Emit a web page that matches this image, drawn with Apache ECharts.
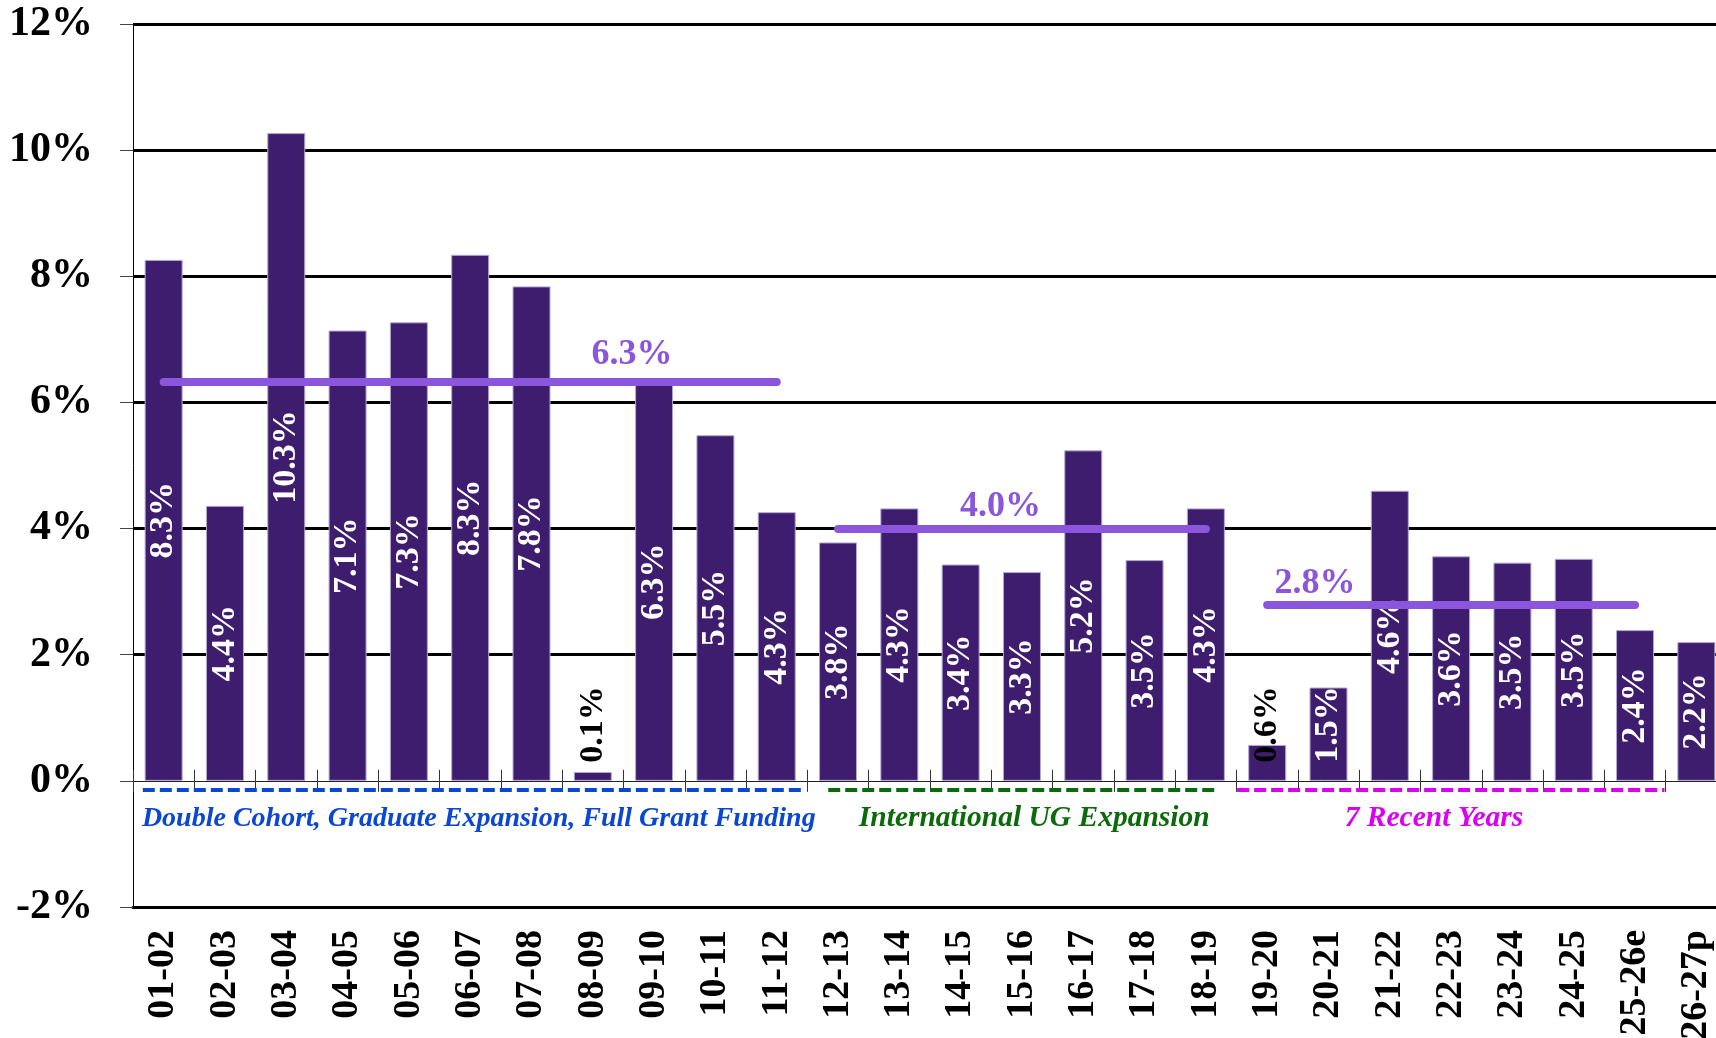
<!DOCTYPE html>
<html>
<head>
<meta charset="utf-8">
<title>Annual growth</title>
<script src="https://cdn.jsdelivr.net/npm/echarts@6/dist/echarts.min.js"></script>
<style>
html, body { margin: 0; padding: 0; background: #fff; }
#chart { width: 1716px; height: 1038px; }
</style>
</head>
<body>
<div id="chart"></div>
<script>
// fiscal years on the x axis
const years = ['01-02', '02-03', '03-04', '04-05', '05-06', '06-07', '07-08', '08-09', '09-10',
  '10-11', '11-12', '12-13', '13-14', '14-15', '15-16', '16-17', '17-18', '18-19', '19-20',
  '20-21', '21-22', '22-23', '23-24', '24-25', '25-26e', '26-27p']
// yearly growth, %
const growth = [8.26, 4.36, 10.27, 7.14, 7.27, 8.34, 7.84, 0.14, 6.31, 5.48, 4.26,
  3.78, 4.32, 3.43, 3.31, 5.24, 3.50, 4.32,
  0.57, 1.48, 4.60, 3.56, 3.46, 3.52, 2.39, 2.20]
const yTicks = [-2, 0, 2, 4, 6, 8, 10, 12]

// periods: first / last bar, average growth over the period
const periodNames = ['Double Cohort, Graduate Expansion, Full Grant Funding', 'International UG Expansion', '7 Recent Years']
const periodFirst = [0, 11, 18]
const periodLast = [10, 17, 24]
const periodAvg = [6.33, 3.99, 2.80]

const serif = '"Liberation Serif", "Times New Roman", serif'
const barColor = '#3e1c6e'
const avgColor = '#8b55dc'
const periodColors = ['#0b47d4', '#0b6b0b', '#d900f4']
const periodFont = [28, 29.5, 29.5]
// layout tweaks (axis units of the boundary axis)
const dashInset = [[0.16, 0.06], [0.34, 0.34], [0.01, 0.02]]
const periodTextX = [5.64, 14.70, 21.22]
const avgTextX = [8.14, 14.15, 19.28]
const avgTextDy = [-27, -22, -21]

const chart = echarts.init(document.getElementById('chart'))

const barData = growth.map(function(v) {
  if (v < 1.6) {
    // too short for the label: put it at the bottom, reading upward
    return {
      value: v,
      label: {
        position: 'insideBottom',
        distance: 18,
        align: 'left',
        verticalAlign: 'middle',
        color: v < 1 ? '#000' : '#fff'
      }
    }
  }
  return v
})

const avgLines = periodAvg.map(function(a, i) {
  return [
    { coord: [periodFirst[i] + 0.5, a] },
    { coord: [periodLast[i] + 0.5, a] }
  ]
})
const dashLines = periodNames.map(function(n, i) {
  return [
    { coord: [periodFirst[i] + dashInset[i][0], -0.14] },
    { coord: [periodLast[i] + 1 - dashInset[i][1], -0.14] }
  ]
})
const avgLabels = periodAvg.map(function(a, i) {
  return {
    name: a.toFixed(1) + '%',
    coord: [avgTextX[i], a],
    label: { offset: [0, avgTextDy[i]], color: avgColor, fontSize: 36 }
  }
})
const periodLabels = periodNames.map(function(n, i) {
  return {
    name: n,
    coord: [periodTextX[i], -0.6],
    label: { color: periodColors[i], fontSize: periodFont[i], fontStyle: 'italic' }
  }
})

const boundaryAxis = {
  type: 'value',
  min: 0,
  max: years.length,
  interval: 1,
  axisLabel: { show: false },
  splitLine: { show: false }
}

chart.setOption({
  animation: false,
  backgroundColor: '#fff',
  grid: { left: 133, top: 24, width: 1594, height: 883, containLabel: false, outerBoundsMode: 'none' },
  xAxis: [
    {
      type: 'category',
      data: years,
      position: 'bottom',
      axisLine: { onZero: false, lineStyle: { color: '#000', width: 3 } },
      axisTick: { show: false },
      axisLabel: {
        interval: 0,
        rotate: 90,
        margin: 23,
        color: '#000',
        fontFamily: serif,
        fontWeight: 'bold',
        fontSize: 38
      }
    },
    Object.assign({}, boundaryAxis, {
      position: 'bottom',
      axisLine: { onZero: true, onZeroAxisIndex: 0, lineStyle: { color: '#222', width: 1 } },
      axisTick: { show: true, length: 11, lineStyle: { color: '#333', width: 1 } }
    }),
    Object.assign({}, boundaryAxis, {
      position: 'top',
      axisLine: { show: false, onZero: true, onZeroAxisIndex: 1 },
      axisTick: { show: true, length: 11, lineStyle: { color: '#333', width: 1 } }
    })
  ],
  yAxis: [
    {
      type: 'value',
      min: yTicks[0],
      max: yTicks[yTicks.length - 1],
      interval: 2,
      axisLine: { show: true, onZero: false, lineStyle: { color: '#000', width: 1 } },
      axisTick: { show: true, length: 13, lineStyle: { color: '#444', width: 1 } },
      axisLabel: {
        formatter: '{value}%',
        margin: 40,
        color: '#000',
        fontFamily: serif,
        fontWeight: 'bold',
        fontSize: 42
      },
      splitLine: {
        show: true,
        lineStyle: { color: ['#000', 'transparent', '#000', '#000', '#000', '#000', '#000', '#000'], width: 3 }
      }
    },
    {
      type: 'value',
      min: yTicks[0],
      max: yTicks[yTicks.length - 1],
      show: false,
      axisLine: { onZero: false }
    }
  ],
  series: [
    {
      name: 'growth',
      type: 'bar',
      xAxisIndex: 0,
      yAxisIndex: 0,
      barWidth: 38,
      data: barData,
      itemStyle: { color: barColor, borderColor: '#b4a8d4', borderWidth: 1 },
      label: {
        show: true,
        position: 'inside',
        rotate: 90,
        color: '#fff',
        fontFamily: serif,
        fontWeight: 'bold',
        fontSize: 34,
        formatter: function(p) { return p.value.toFixed(1) + '%' }
      }
    },
    {
      name: 'periods',
      type: 'line',
      xAxisIndex: 1,
      yAxisIndex: 0,
      data: [],
      z: 5,
      markLine: {
        silent: true,
        symbol: 'none',
        label: { show: false },
        data: avgLines.map(function(d) {
          return [Object.assign({ lineStyle: { color: avgColor, width: 8, cap: 'round', type: 'solid' } }, d[0]), d[1]]
        }).concat(dashLines.map(function(d, i) {
          return [Object.assign({ lineStyle: { color: periodColors[i], width: 4, type: [12, 5], cap: 'butt' } }, d[0]), d[1]]
        }))
      },
      markPoint: {
        symbol: 'circle',
        symbolSize: 1,
        itemStyle: { color: 'transparent' },
        label: {
          show: true,
          position: 'inside',
          formatter: '{b}',
          fontFamily: serif,
          fontWeight: 'bold'
        },
        data: avgLabels.concat(periodLabels)
      }
    }
  ]
})
</script>
</body>
</html>
